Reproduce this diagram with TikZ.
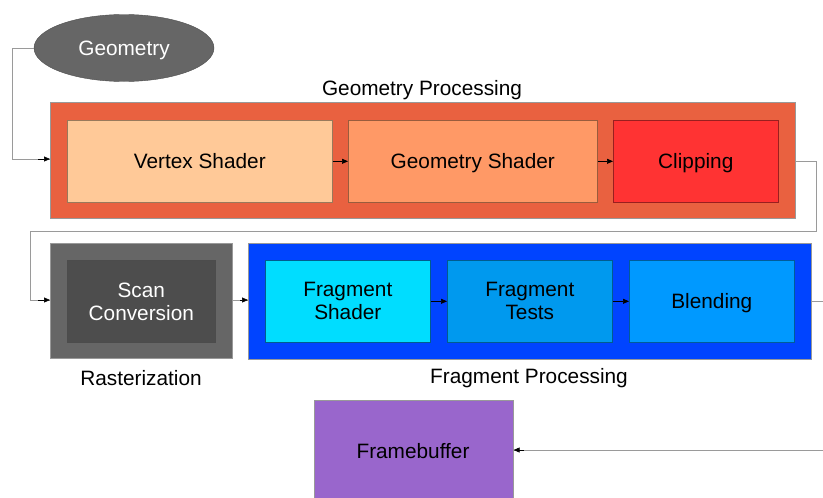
\documentclass[tikz,border=0pt]{standalone}
\usepackage{fontspec}
\setmainfont{Liberation Sans}
\usetikzlibrary{shapes.geometric,arrows.meta}
\definecolor{geomfill}{HTML}{666666}
\definecolor{gpfill}{HTML}{E96140}
\definecolor{vsfill}{HTML}{FFC998}
\definecolor{gsfill}{HTML}{FF9966}
\definecolor{clfill}{HTML}{FF3333}
\definecolor{rastfill}{HTML}{666666}
\definecolor{scfill}{HTML}{4D4D4D}
\definecolor{fpfill}{HTML}{0044FF}
\definecolor{fsfill}{HTML}{00DDFF}
\definecolor{ftfill}{HTML}{0099EE}
\definecolor{blfill}{HTML}{0099FF}
\definecolor{fbfill}{HTML}{9966CC}
\definecolor{wire}{HTML}{9A9A9A}
\tikzset{
  every node/.style={font=\fontsize{20.8}{24}\selectfont},
  oneline/.style={text height=14pt, text depth=0pt},
  twoline/.style={font=\fontsize{20.8}{23}\selectfont, text depth=0pt},
  stage/.style={draw=#1!60!black, line width=0.6pt, inner sep=0pt, align=center},
  group/.style={draw=black!40, line width=0.6pt, inner sep=0pt},
  wireline/.style={draw=wire, line width=0.8pt},
  tip/.style={-{Triangle[length=6pt,width=5pt]}, line width=0.6pt},
}
\begin{document}
\begin{tikzpicture}[x=1pt,y=-1pt]
\useasboundingbox (0,0) rectangle (823,498);

% geometry source
\node[ellipse, draw=black!70, fill=geomfill, minimum width=180, minimum height=67,
  inner sep=0pt, text=white, oneline] (geom) at (124,48) {Geometry};

% geometry processing group
\node[group, fill=gpfill, minimum width=745, minimum height=116, anchor=north west] (gp) at (50,102) {};
\node[oneline] (gplabel) at (422,88) {Geometry Processing};
\node[stage=vsfill, fill=vsfill, minimum width=265, minimum height=82, anchor=north west, oneline] (vs) at (67,120) {Vertex Shader};
\node[stage=gsfill, fill=gsfill, minimum width=249, minimum height=82, anchor=north west, oneline] (gs) at (348,120) {Geometry Shader};
\node[stage=clfill, fill=clfill, minimum width=165, minimum height=82, anchor=north west, oneline] (cl) at (613,120) {Clipping};

% rasterization group
\node[group, fill=rastfill, minimum width=182, minimum height=115, anchor=north west] (rast) at (50,243) {};
\node[stage=scfill, draw=black!70, fill=scfill, minimum width=148, minimum height=82, anchor=north west,
  text=white, twoline] (sc) at (67,260) {Scan\\Conversion};
\node[oneline] (rastlabel) at (141,378) {Rasterization};

% fragment processing group
\node[group, fill=fpfill, minimum width=563, minimum height=116, anchor=north west] (fp) at (248,243) {};
\node[stage=fsfill, draw=ftfill!60!black, fill=fsfill, minimum width=165, minimum height=82, anchor=north west,
  twoline] (fs) at (265,260) {Fragment\\Shader};
\node[stage=ftfill, fill=ftfill, minimum width=165, minimum height=82, anchor=north west,
  twoline] (ft) at (447,260) {Fragment\\Tests};
\node[stage=blfill, fill=blfill, minimum width=165, minimum height=82, anchor=north west, oneline] (bl) at (629,260) {Blending};
\node[oneline] (fplabel) at (529,376) {Fragment Processing};

% output
\node[draw=black!40, line width=0.6pt, fill=fbfill, minimum width=199, minimum height=110, anchor=north west,
  inner sep=0pt] (fbbox) at (314,400) {};
\node[oneline] (fb) at (413,451) {Framebuffer};

% routing points
\coordinate (c1) at (12,48);
\coordinate (c2) at (12,159);
\coordinate (c3) at (816,161);
\coordinate (c4) at (816,231);
\coordinate (c5) at (30,231);
\coordinate (c6) at (30,300);
\coordinate (c7) at (840,301);
\coordinate (c8) at (840,450);

% connectors
\draw[wireline] (geom.west) -- (c1) -- (c2) -- (c2 -| gp.west);
\draw[tip] ([xshift=-12pt]c2 -| gp.west) -- (c2 -| gp.west);
\draw[tip] (vs.east) -- (gs.west);
\draw[tip] (gs.east) -- (cl.west);
\draw[wireline] (c3 -| gp.east) -- (c3) -- (c4) -- (c5) -- (c6) -- (c6 -| rast.west);
\draw[tip] ([xshift=-12pt]c6 -| rast.west) -- (c6 -| rast.west);
\draw[wireline] (rast.east |- c6) -- (fp.west |- c6);
\draw[tip] ([xshift=-8pt]fp.west |- c6) -- (fp.west |- c6);
\draw[tip] (fs.east) -- (ft.west);
\draw[tip] (ft.east) -- (bl.west);
\draw[wireline] (fp.east |- c7) -- (c7);
\draw[wireline] (c8) -- (fbbox.east |- c8);
\draw[tip] ([xshift=10pt]fbbox.east |- c8) -- (fbbox.east |- c8);
\end{tikzpicture}
\end{document}
